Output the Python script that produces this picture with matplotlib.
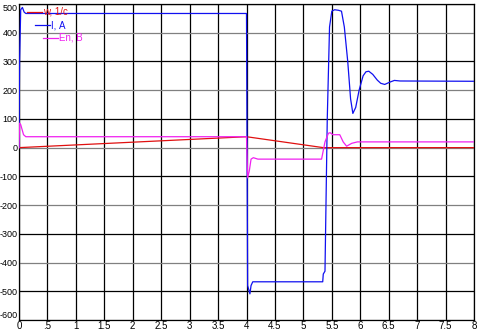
import numpy as np
import matplotlib
matplotlib.use("Agg")
import matplotlib.pyplot as plt

plt.rcParams['font.family'] = ['Liberation Sans', 'DejaVu Sans']
plt.rcParams['axes.unicode_minus'] = False

# Скорость (w, 1/с)
t_w = [0, 4.0, 5.35, 8.0]
w = [0, 38, 0, 0]

# Ток (I, А)
t_i = [0, 0.01, 0.03, 0.06, 0.09, 0.12, 3.99, 4.0, 4.02, 4.06, 4.08, 4.11, 5.34, 5.35,
       5.38, 5.42, 5.46, 5.50, 5.55, 5.62, 5.67, 5.72, 5.78, 5.83, 5.87, 5.92, 5.98,
       6.05, 6.10, 6.15, 6.22, 6.30, 6.36, 6.43, 6.52, 6.60, 6.70, 8.0]
i_a = [0, 300, 480, 488, 472, 467, 467, 467, -480, -509, -480, -467, -467, -440,
       -430, 100, 420, 475, 480, 478, 475, 420, 300, 170, 119, 140, 200,
       250, 264, 266, 255, 235, 224, 220, 228, 234, 232, 231]

# ЭДС (En, В)
t_e = [0, 0.01, 0.03, 0.08, 0.12, 3.99, 4.0, 4.02, 4.05, 4.08, 4.12, 4.2, 5.32, 5.38,
       5.44, 5.47, 5.52, 5.64, 5.70, 5.76, 5.85, 5.95, 8.0]
e_n = [0, 85, 80, 45, 38, 38, 38, -105, -80, -40, -35, -40, -40, 20,
       50, 52, 45, 45, 20, 5, 15, 20, 20]

x_ticks = np.arange(0, 8.01, 0.5)
x_labels = ['0', '.5', '1', '1.5', '2', '2.5', '3', '3.5', '4', '4.5', '5', '5.5',
            '6', '6.5', '7', '7.5', '8']
y_ticks = np.arange(-600, 501, 100)

fig = plt.figure(figsize=(4.78, 3.35), dpi=100)
ax = fig.add_axes([19 / 478, 15 / 335, 455 / 478, 316 / 335])

# сетка
for xv in x_ticks:
    ax.axvline(xv, color='black', lw=0.9, zorder=1)
for yv in y_ticks:
    c = '#808080' if (yv // 100) % 2 == 0 else 'black'
    ax.axhline(yv, color=c, lw=0.9, zorder=1)

ax.plot(t_w, w, color='#e01010', lw=0.9, zorder=3)
ax.plot(t_i, i_a, color='#1010f0', lw=0.9, zorder=4)
ax.plot(t_e, e_n, color='#f020f0', lw=0.9, zorder=5)

ax.set_xlim(0, 8)
ax.set_ylim(-600, 500)
ax.set_xticks(x_ticks)
ax.set_xticklabels(x_labels)
ax.set_yticks(y_ticks)
ax.tick_params(length=0, pad=1)
ax.tick_params(axis='x', labelsize=7)
ax.tick_params(axis='y', labelsize=6.5)
ylabs = ax.get_yticklabels()
ylabs[-1].set_va('top')
ylabs[0].set_va('bottom')
for s in ax.spines.values():
    s.set_color('black')
    s.set_linewidth(0.9)

# легенда
leg = [('w, 1/с', '#e01010'), ('I, А', '#1010f0'), ('En, В', '#f020f0')]
for k, (txt, c) in enumerate(leg):
    x0 = (27 + 8 * k - 19) / 455
    y0 = 1 - (12 + 13 * k - 4) / 316
    ax.plot([x0, x0 + 15 / 455], [y0, y0], color=c, lw=0.9, transform=ax.transAxes,
            zorder=6, clip_on=False)
    ax.text(x0 + 16 / 455, y0, txt, color=c, fontsize=7, va='center', ha='left',
            transform=ax.transAxes, zorder=6)

fig.savefig('out.png', dpi=100)
